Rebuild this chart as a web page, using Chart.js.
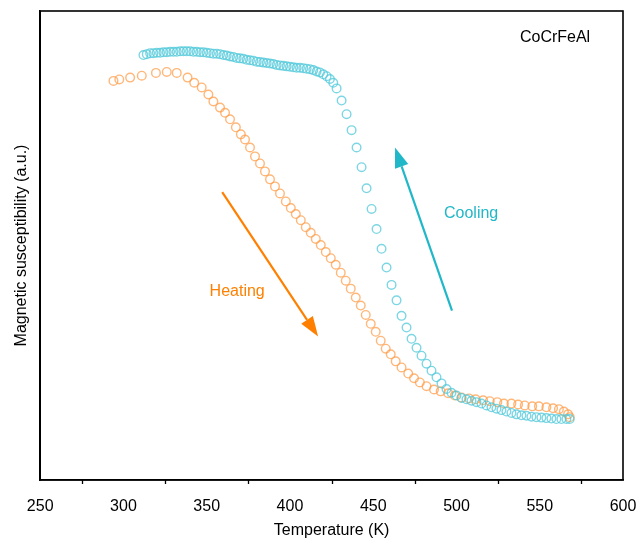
<!DOCTYPE html>
<html lang="en">
<head>
  <meta charset="UTF-8">
  <title>CoCrFeAl susceptibility</title>
  <script src="https://cdn.jsdelivr.net/npm/chart.js"></script>
  <style>
    body { margin: 0; background: #fff; }
    canvas { display: block; }
  </style>
</head>
<body>
  <canvas id="chi" width="640" height="540"></canvas>

  <script>
    // heating branch (orange)
    const heatT = [294, 297.5, 304, 311, 319.5, 326, 332, 338.5, 342.5, 347,
      351, 354, 358, 361, 364, 367.5, 370.5, 373, 376, 379,
      382, 385, 388, 391, 394, 397.5, 400.5, 403.5, 406.5, 409.5,
      412.5, 415.5, 418.5, 421.5, 424.5, 427.5, 430.5, 433.5, 436.5, 439.5,
      442.5, 445.5, 448.5, 451.5, 454.5, 457.5, 460.5, 463.5, 467, 471,
      474.5, 478, 482, 486.5, 490.5, 495, 499, 503, 507.5, 511.5,
      516, 520, 524.5, 528.5, 533, 537, 541, 545.5, 549.5, 554,
      558, 561.5, 564.5, 567, 568];
    const heatChi = [85.1, 85.4, 85.8, 86.2, 86.8, 87.0, 86.8, 85.8, 84.7, 83.7,
      82.2, 80.7, 79.4, 78.3, 76.9, 75.2, 73.7, 72.6, 70.9, 69.0,
      67.5, 65.8, 64.1, 62.6, 61.1, 59.4, 58.0, 56.7, 55.4, 53.9,
      52.7, 51.4, 50.1, 48.6, 47.3, 45.9, 44.2, 42.5, 40.8, 38.9,
      37.2, 35.2, 33.3, 31.6, 29.7, 28.0, 26.8, 25.3, 24.0, 22.7,
      21.7, 20.8, 20.0, 19.3, 18.9, 18.5, 18.0, 17.6, 17.4, 17.2,
      17.0, 16.8, 16.6, 16.3, 16.3, 16.1, 15.9, 15.7, 15.7, 15.5,
      15.3, 15.1, 14.6, 14.0, 13.4];

    // cooling branch (cyan)
    const coolT = [312, 314, 316, 318, 320, 322, 324, 326, 328, 330,
      332, 334, 336, 338, 340, 342, 344, 346, 348, 350,
      352, 354, 356, 358, 360, 362, 364, 366, 368, 370,
      372, 374, 376, 378, 380, 382, 384, 386, 388, 390,
      392, 394, 396, 398, 400, 402, 404, 406, 408, 410,
      412, 414, 416, 418, 420, 422, 424, 426, 428, 431,
      434, 437, 440, 443, 446, 449, 452, 455, 458, 461,
      464, 467, 470, 473, 476, 479, 482, 485, 488, 491,
      494, 497, 500, 503, 506, 509, 512, 515, 518, 521,
      524, 527, 530, 533, 536, 539, 542, 545, 548, 551,
      554, 557, 560, 563, 566, 568];
    const coolChi = [90.6, 90.8, 91.0, 91.0, 91.1, 91.1, 91.2, 91.2, 91.3, 91.3,
      91.3, 91.4, 91.4, 91.4, 91.4, 91.3, 91.3, 91.2, 91.2, 91.1,
      91.0, 90.9, 90.9, 90.8, 90.6, 90.5, 90.3, 90.2, 90.0, 89.9,
      89.8, 89.6, 89.5, 89.4, 89.2, 89.1, 89.0, 88.9, 88.8, 88.7,
      88.5, 88.4, 88.3, 88.2, 88.1, 88.0, 87.9, 87.9, 87.8, 87.7,
      87.6, 87.4, 87.1, 86.9, 86.5, 86.1, 85.5, 84.7, 83.5, 80.9,
      78.0, 74.6, 70.9, 66.7, 62.2, 57.8, 53.5, 49.3, 45.3, 41.6,
      38.3, 35.0, 32.5, 30.1, 28.2, 26.5, 24.8, 23.3, 21.9, 20.6,
      19.4, 18.6, 18.0, 17.5, 17.2, 16.9, 16.6, 16.3, 15.9, 15.5,
      15.2, 14.9, 14.6, 14.3, 14.0, 13.8, 13.7, 13.5, 13.4, 13.3,
      13.2, 13.1, 13.0, 13.0, 13.0, 13.0];

    const xTicks = [250, 300, 350, 400, 450, 500, 550, 600];
    const xMinor = [275, 325, 375, 425, 475, 525, 575];

    // annotations in data coordinates
    const heatArrow = [[359.3, 61.4], [416.9, 30.6]];
    const coolArrow = [[497.3, 36.1], [463.1, 70.9]];
    const notes = [
      { text: "Heating", at: [368.3, 40.1], color: "#ff8000" },
      { text: "Cooling", at: [508.8, 56.7], color: "#20b8c8" },
      { text: "CoCrFeAl", at: [559.2, 94.3], color: "#000" }
    ];

    const FONT = "'Liberation Sans', Arial, sans-serif";
    const toXY = (xs, ys) => xs.map((x, i) => ({ x: x, y: ys[i] }));

    const decor = {
      id: "decor",
      afterDatasetsDraw(chart) {
        const { ctx, chartArea: a, scales: { x, y } } = chart;
        ctx.save();
        // frame
        ctx.strokeStyle = "#000";
        ctx.lineWidth = 1.6;
        ctx.strokeRect(a.left, a.top, a.right - a.left, a.bottom - a.top);
        // minor ticks
        ctx.lineWidth = 1.3;
        xMinor.forEach(v => {
          const px = Math.round(x.getPixelForValue(v)) + 0.5;
          ctx.beginPath();
          ctx.moveTo(px, a.bottom);
          ctx.lineTo(px, a.bottom + 4);
          ctx.stroke();
        });
        // arrows
        const arrow = (pts, color) => {
          const x0 = x.getPixelForValue(pts[0][0]), y0 = y.getPixelForValue(pts[0][1]);
          const x1 = x.getPixelForValue(pts[1][0]), y1 = y.getPixelForValue(pts[1][1]);
          const ang = Math.atan2(y1 - y0, x1 - x0);
          const L = 20, W = 7;
          const bx = x1 - L * Math.cos(ang), by = y1 - L * Math.sin(ang);
          ctx.strokeStyle = color;
          ctx.fillStyle = color;
          ctx.lineWidth = 2.2;
          ctx.beginPath();
          ctx.moveTo(x0, y0);
          ctx.lineTo(bx, by);
          ctx.stroke();
          ctx.beginPath();
          ctx.moveTo(x1, y1);
          ctx.lineTo(bx + W * Math.sin(ang), by - W * Math.cos(ang));
          ctx.lineTo(bx - W * Math.sin(ang), by + W * Math.cos(ang));
          ctx.closePath();
          ctx.fill();
        };
        arrow(heatArrow, "#ff8000");
        arrow(coolArrow, "#20b8c8");
        // labels
        ctx.font = "16px " + FONT;
        ctx.textAlign = "center";
        ctx.textBaseline = "middle";
        notes.forEach(n => {
          ctx.fillStyle = n.color;
          ctx.fillText(n.text, x.getPixelForValue(n.at[0]), y.getPixelForValue(n.at[1]));
        });
        ctx.restore();
      }
    };

    new Chart(document.getElementById("chi"), {
      type: "scatter",
      data: {
        datasets: [
          {
            label: "Cooling",
            data: toXY(coolT, coolChi),
            pointStyle: "circle",
            pointRadius: 4.3,
            pointBorderWidth: 1.4,
            borderColor: "rgba(80, 200, 218, 0.75)",
            backgroundColor: "rgba(0,0,0,0)"
          },
          {
            label: "Heating",
            data: toXY(heatT, heatChi),
            pointStyle: "circle",
            pointRadius: 4.3,
            pointBorderWidth: 1.4,
            borderColor: "rgba(255, 155, 70, 0.72)",
            backgroundColor: "rgba(0,0,0,0)"
          }
        ]
      },
      options: {
        responsive: false,
        animation: false,
        layout: { padding: { left: 6, right: 17, top: 11, bottom: 0 } },
        plugins: { legend: { display: false }, tooltip: { enabled: false } },
        scales: {
          x: {
            type: "linear",
            min: 250,
            max: 600,
            afterBuildTicks: s => { s.ticks = xTicks.map(v => ({ value: v })); },
            afterFit: s => { s.height = 60; s.paddingLeft = 0; s.paddingRight = 0; },
            grid: { display: false, drawOnChartArea: false, drawTicks: true, tickLength: 7, tickWidth: 1.5, tickColor: "#000" },
            border: { display: true, color: "#000", width: 1.6 },
            ticks: { color: "#000", font: { family: FONT, size: 16 }, padding: 10, maxRotation: 0 },
            title: { display: true, text: "Temperature (K)", color: "#000", font: { family: FONT, size: 16 }, padding: { top: 0, bottom: 0 } }
          },
          y: {
            min: 0,
            max: 100,
            grid: { display: false },
            border: { display: true, color: "#000", width: 1.6 },
            ticks: { display: false },
            title: { display: true, text: "Magnetic susceptibility (a.u.)", color: "#000", font: { family: FONT, size: 16 }, padding: { top: 6, bottom: 1 } }
          }
        }
      },
      plugins: [decor]
    });
  </script>
</body>
</html>
